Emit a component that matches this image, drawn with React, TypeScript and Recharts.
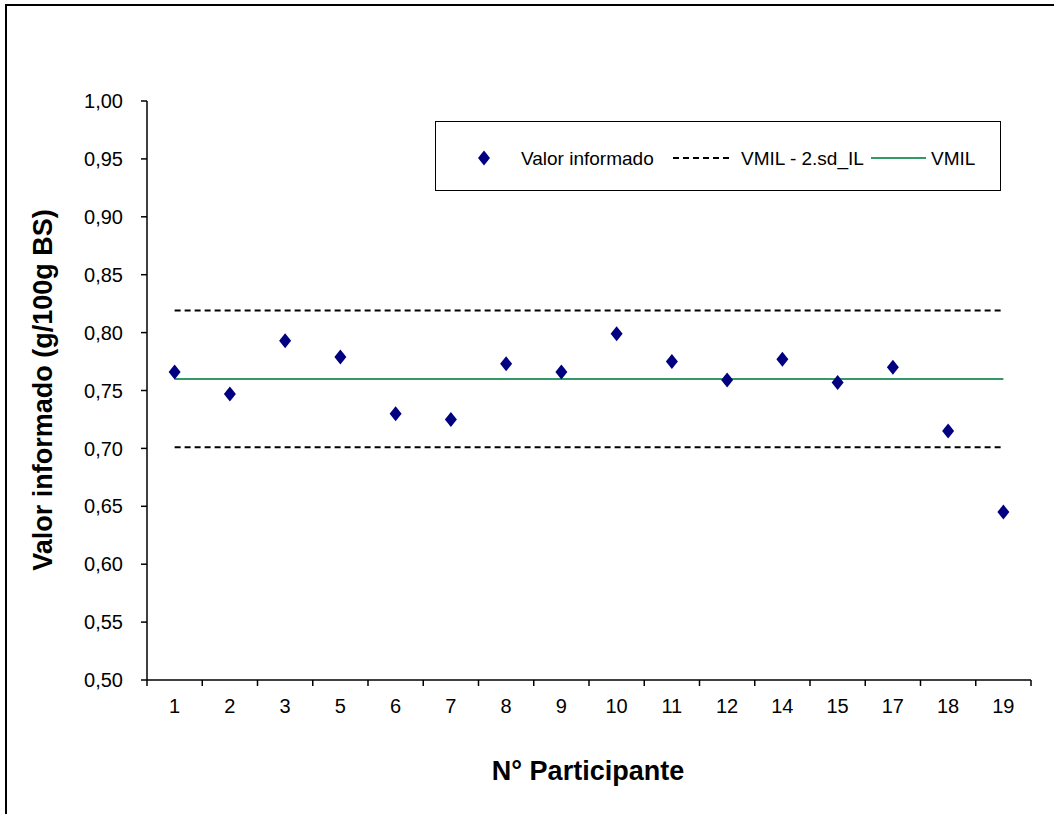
import React from "react";
import { ComposedChart, Line, Scatter, XAxis, YAxis } from "recharts";

// participantes na ordem do eixo
const participantes = ["1", "2", "3", "5", "6", "7", "8", "9", "10", "11", "12", "14", "15", "17", "18", "19"];
// valor informado (g/100g BS)
const valores = [0.766, 0.747, 0.793, 0.779, 0.73, 0.725, 0.773, 0.766, 0.799, 0.775, 0.759, 0.777, 0.757, 0.77, 0.715, 0.645];
const vmil = 0.76;
const limInf = 0.701; // VMIL - 2.sd_IL
const limSup = 0.819; // VMIL + 2.sd_IL
const yTicks = [0.5, 0.55, 0.6, 0.65, 0.7, 0.75, 0.8, 0.85, 0.9, 0.95, 1.0];

const FONT = "'Liberation Sans', Arial, sans-serif";
const NAVY = "#000080";
const GREEN = "#339966";
const DASH = "6 4";

const data = participantes.map((p, i) => ({
  idx: i,
  participante: p,
  valor: valores[i],
  vmil,
  inf: limInf,
  sup: limSup,
}));

// ticks at category edges (half values) + labels at centres
const xTicks: number[] = [];
for (let i = 0; i <= participantes.length * 2; i++) xTicks.push(-0.5 + i * 0.5);

const XTick = (props: any) => {
  const { x, y, payload } = props;
  const v = payload.value as number;
  if (!Number.isInteger(v)) {
    return <line x1={x} x2={x} y1={y - 6} y2={y} stroke="#000" strokeWidth={1.5} />;
  }
  return (
    <text x={x} y={y + 27} textAnchor="middle" fontSize={20} fill="#000" fontFamily={FONT}>
      {participantes[v]}
    </text>
  );
};

const Diamond = (props: any) => {
  const { cx, cy } = props;
  if (cx == null || cy == null) return null;
  const w = 6;
  const h = 7.5;
  return <polygon points={`${cx},${cy - h} ${cx + w},${cy} ${cx},${cy + h} ${cx - w},${cy}`} fill={NAVY} />;
};

export default function App() {
  return (
    <div style={{ position: "absolute", left: 0, top: 0, width: 1054, height: 814, overflow: "hidden", background: "#fff", fontFamily: FONT }}>
      {/* chart frame */}
      <div style={{ position: "absolute", left: 5, top: 4, width: 1100, height: 900, borderLeft: "2px solid #000", borderTop: "2px solid #000" }} />

      <ComposedChart width={1054} height={814} data={data} margin={{ top: 101, right: 23, bottom: 94, left: 67 }}>
        <XAxis
          dataKey="idx"
          type="number"
          domain={[-0.5, participantes.length - 0.5]}
          ticks={xTicks}
          interval={0}
          tick={<XTick />}
          tickLine={false}
          tickSize={6}
          tickMargin={0}
          height={40}
          axisLine={{ stroke: "#000", strokeWidth: 1.5 }}
        />
        <YAxis
          type="number"
          domain={[0.5, 1]}
          ticks={yTicks}
          interval={0}
          width={80}
          tickSize={6}
          tickMargin={18}
          tickFormatter={(v: number) => v.toFixed(2).replace(".", ",")}
          tick={{ fill: "#000", fontSize: 20, fontFamily: FONT }}
          tickLine={{ stroke: "#000", strokeWidth: 1.5 }}
          axisLine={{ stroke: "#000", strokeWidth: 1.5 }}
        />
        <Line dataKey="sup" stroke="#000" strokeWidth={2} strokeDasharray={DASH} dot={false} isAnimationActive={false} />
        <Line dataKey="inf" stroke="#000" strokeWidth={2} strokeDasharray={DASH} dot={false} isAnimationActive={false} />
        <Line dataKey="vmil" stroke={GREEN} strokeWidth={2} dot={false} isAnimationActive={false} />
        <Scatter dataKey="valor" fill={NAVY} shape={<Diamond />} isAnimationActive={false} />
      </ComposedChart>

      {/* legend */}
      <div style={{ position: "absolute", left: 435, top: 121, width: 564, height: 68, border: "1px solid #000", background: "#fff" }}>
        <svg width={564} height={68} style={{ position: "absolute", left: 0, top: 0 }}>
          <polygon points="48,28.5 54,36 48,43.5 42,36" fill={NAVY} />
          <text x={85} y={42.5} fontSize={19} fontFamily={FONT} fill="#000">Valor informado</text>
          <line x1={237} x2={297} y1={36} y2={36} stroke="#000" strokeWidth={2} strokeDasharray={DASH} />
          <text x={305} y={42.5} fontSize={19} fontFamily={FONT} fill="#000">VMIL - 2.sd_IL</text>
          <line x1={435} x2={490} y1={36} y2={36} stroke={GREEN} strokeWidth={2} />
          <text x={495} y={42.5} fontSize={19} fontFamily={FONT} fill="#000">VMIL</text>
        </svg>
      </div>

      {/* axis titles */}
      <div style={{ position: "absolute", left: 43 - 250, top: 390 - 17, width: 500, height: 34, lineHeight: "34px", textAlign: "center", transform: "rotate(-90deg)", fontWeight: "bold", fontSize: 27 }}>
        Valor informado (g/100g BS)
      </div>
      <div style={{ position: "absolute", left: 588 - 200, top: 771 - 17, width: 400, height: 34, lineHeight: "34px", textAlign: "center", fontWeight: "bold", fontSize: 27 }}>
        N° Participante
      </div>
    </div>
  );
}
